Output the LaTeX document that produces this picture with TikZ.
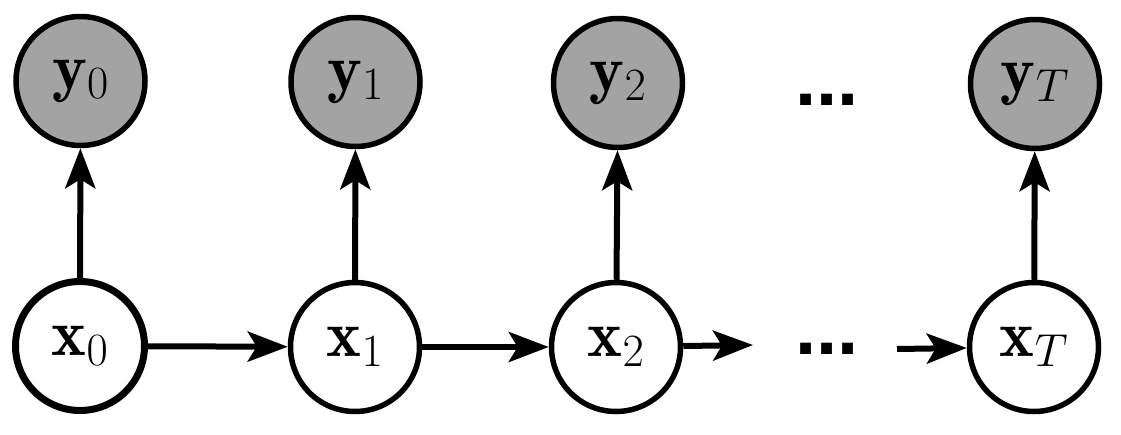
\RequirePackage{fix-cm}
\documentclass[tikz,border=0pt]{standalone}
\usepackage{fontspec}
\newfontfamily\dotfont{Liberation Sans}
\usetikzlibrary{arrows.meta}
\definecolor{obsgray}{RGB}{163,163,163}
\begin{document}
\begin{tikzpicture}[x=1pt,y=-1pt,
  var/.style={circle,draw=black,line width=5.5pt,minimum size=129pt,inner sep=0pt,
    font=\fontsize{66}{79}\selectfont},
  obs/.style={var,fill=obsgray},
  hid/.style={var,fill=white},
  dotsnode/.style={inner sep=0pt,font=\dotfont\bfseries\fontsize{76}{90}\selectfont},
  edge/.style={line width=6pt,-{Stealth[length=40pt,width=30pt,inset=9pt]}}]
\useasboundingbox (0,0) rectangle (1121,434);
\node[obs] (y0) at (80.5,81) {$\mathbf{y}_0$};
\node[obs] (y1) at (355.5,82) {$\mathbf{y}_1$};
\node[obs] (y2) at (618,83) {$\mathbf{y}_2$};
\node[obs] (yT) at (1035,84) {$\mathbf{y}_T$};
\node[hid,line width=7pt] (x0) at (80,346) {$\mathbf{x}_0$};
\node[hid] (x1) at (355,347) {$\mathbf{x}_1$};
\node[hid] (x2) at (616,347) {$\mathbf{x}_2$};
\node[hid] (xT) at (1034,347) {$\mathbf{x}_T$};
\node[dotsnode] (d1) at (827,100) {...};
\node[dotsnode] (d2) at (827,349) {...};
\coordinate (c1) at (753,345);
\coordinate (c2) at (897,349);
\draw[edge] (x0) -- (y0);
\draw[edge] (x1) -- (y1);
\draw[edge] (x2) -- (y2);
\draw[edge] (xT) -- (yT);
\draw[edge] (x0) -- (x1);
\draw[edge] (x1) -- (x2);
\draw[edge] (x2) -- (c1);
\draw[edge] (c2) -- (xT);
\end{tikzpicture}
\end{document}
